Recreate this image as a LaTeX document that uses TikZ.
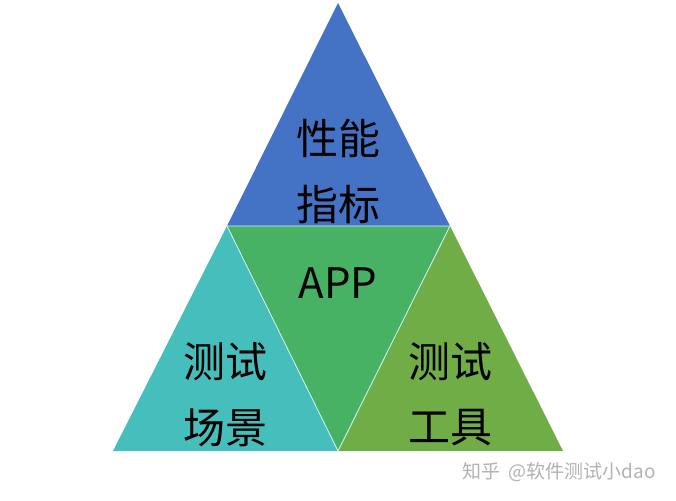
\documentclass[tikz,border=0pt]{standalone}
\usepackage{fontspec}
\newfontfamily\cjk{Noto Sans CJK SC}
\usepackage{tikz}
\usetikzlibrary{calc}
\definecolor{topblue}{HTML}{4472C4}
\definecolor{leftteal}{HTML}{45BEBC}
\definecolor{midgreen}{HTML}{47B264}
\definecolor{rightgreen}{HTML}{70AD47}
\tikzset{
  part/.style={draw=white!85!cyan, line width=0.8pt, line join=miter},
  big/.style={font=\cjk\fontsize{42}{48}\selectfont, text=black, inner sep=0pt},
}
\begin{document}
\begin{tikzpicture}[x=1pt,y=-1pt]
            \useasboundingbox (0,0) rectangle (676,500);
            \coordinate (T) at (338,3);
            \coordinate (L) at (113,451);
            \coordinate (R) at (563,451);
            \coordinate (ML) at (227,226);
            \coordinate (MR) at (450,226);
            \coordinate (MB) at (338,451);
            \fill[topblue] (T) -- (MR) -- (ML) -- cycle;
            \fill[leftteal] (ML) -- (MB) -- (L) -- cycle;
            \fill[rightgreen] (MR) -- (R) -- (MB) -- cycle;
            \fill[midgreen] (ML) -- (MR) -- (MB) -- cycle;
            \draw[part] (ML) -- (MR) -- (MB) -- cycle;
            \node[big] (perf1) at (338,138) {性能};
            \node[big] (perf2) at (338,205) {指标};
            \node[big] (app) at (338,283) {APP};
            \node[big] (scene1) at (225,362) {测试};
            \node[big] (scene2) at (225,428) {场景};
            \node[big] (tool1) at (450,362) {测试};
            \node[big] (tool2) at (450,428) {工具};
            \node[font=\cjk\fontsize{19}{22}\selectfont, text=black!30] (mark) at (559,472) {知乎\ \ @软件测试小dao};
        \end{tikzpicture}
\end{document}
